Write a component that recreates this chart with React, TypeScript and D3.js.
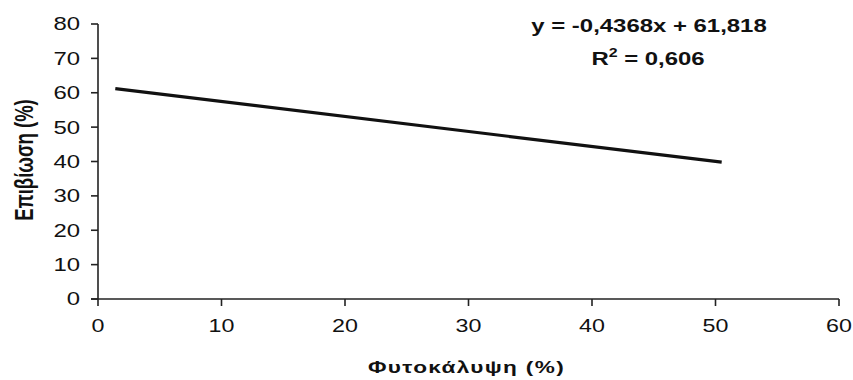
import React from "react";
import * as d3 from "d3";

const xTicks = [0, 10, 20, 30, 40, 50, 60];
const yTicks = [0, 10, 20, 30, 40, 50, 60, 70, 80];
const trendX = [1.4, 50.5];
const trendY = [61.2, 39.8];
const equationText = "y = -0,4368x + 61,818";
const r2Value = "0,606";
const xLabel = "Φυτοκάλυψη (%)";
const yLabel = "Επιβίωση (%)";

const W = 853;
const H = 380;
const SX = 1.33;

export default function App() {
  const x = d3.scaleLinear().domain([0, 60]).range([98, 839]);
  const y = d3.scaleLinear().domain([0, 80]).range([299, 24]);
  const pts: [number, number][] = trendX.map((v, i) => [v, trendY[i]]);
  const line = d3
    .line<[number, number]>()
    .x((d) => x(d[0]))
    .y((d) => y(d[1]));
  const font = "'Liberation Sans', Arial, sans-serif";
  const axisColor = "#222";
  const textColor = "#111";
  return (
    <svg
      width={W}
      height={H}
      style={{ position: "absolute", left: 0, top: 0, background: "#fff" }}
      fontFamily={font}
    >
      <rect x={0} y={0} width={W} height={H} fill="#fff" />
      {/* y axis */}
      <line x1={x(0)} x2={x(0)} y1={y(80)} y2={y(0)} stroke={axisColor} strokeWidth={1.6} />
      {yTicks.map((t) => (
        <g key={"y" + t}>
          <line x1={x(0) - 7} x2={x(0)} y1={y(t)} y2={y(t)} stroke={axisColor} strokeWidth={1.6} />
          <g transform={`translate(80,${y(t)}) scale(${SX},1)`}>
            <text dy="0.36em" textAnchor="end" fontSize={18} fill={textColor}>
              {t}
            </text>
          </g>
        </g>
      ))}
      {/* x axis */}
      <line x1={x(0) - 7} x2={x(60)} y1={y(0)} y2={y(0)} stroke={axisColor} strokeWidth={1.6} />
      {xTicks.map((t) => (
        <g key={"x" + t}>
          <line x1={x(t)} x2={x(t)} y1={y(0)} y2={y(0) + 7} stroke={axisColor} strokeWidth={1.6} />
          <g transform={`translate(${x(t)},332) scale(${SX},1)`}>
            <text textAnchor="middle" fontSize={17.5} fill={textColor}>
              {t}
            </text>
          </g>
        </g>
      ))}
      {/* trend line */}
      <path d={line(pts) || ""} fill="none" stroke="#111" strokeWidth={3.2} />
      {/* equation */}
      <g transform={`translate(649,32) scale(${SX},1)`}>
        <text textAnchor="middle" fontSize={18} fontWeight="bold" fill={textColor}>
          {equationText}
        </text>
      </g>
      <g transform={`translate(648,65) scale(${SX},1)`}>
        <text textAnchor="middle" fontSize={18} fontWeight="bold" fill={textColor}>
          R
          <tspan fontSize={12} dy={-8}>2</tspan>
          <tspan dy={8}>{" = " + r2Value}</tspan>
        </text>
      </g>
      {/* axis labels */}
      <g transform={`translate(466.5,373) scale(${SX},1)`}>
        <text
          textAnchor="middle"
          fontSize={17}
          fontWeight="bold"
          letterSpacing={1}
          fill={textColor}
        >
          {xLabel}
        </text>
      </g>
      <g transform={`translate(33,160) scale(1.4,1) rotate(-90)`}>
        <text textAnchor="middle" fontSize={18.5} fontWeight="bold" fill={textColor}>
          {yLabel}
        </text>
      </g>
    </svg>
  );
}
